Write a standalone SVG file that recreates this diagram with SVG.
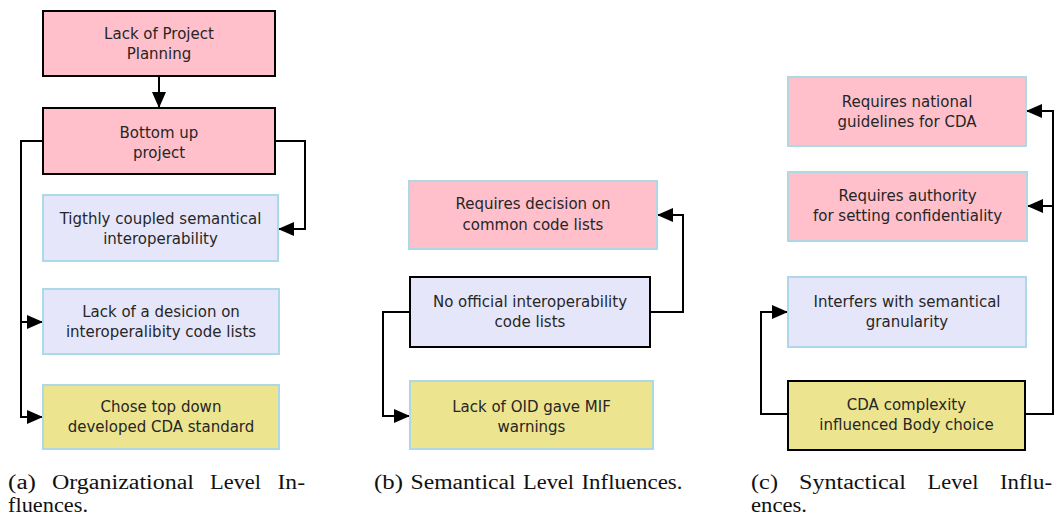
<svg xmlns="http://www.w3.org/2000/svg" width="1060" height="516" viewBox="0 0 1060 516">
<defs>
<marker id="arr" viewBox="0 0 16 14" refX="15" refY="7" markerWidth="16" markerHeight="14" orient="auto" markerUnits="userSpaceOnUse"><path d="M0,0 L16,7 L0,14 z" fill="#000"/></marker>
<style>
.pink{fill:#ffc0cb}
.lav{fill:#e6e6fa}
.kha{fill:#ece48e}
.bl{stroke:#000;stroke-width:2}
.lb{stroke:#add8e6;stroke-width:2}
.t{font-family:"DejaVu Sans",sans-serif;font-size:15px;fill:#262626;text-anchor:middle}
.cap text{font-family:"Liberation Serif",serif;font-size:20px;fill:#111}
.c{fill:none;stroke:#000;stroke-width:2;marker-end:url(#arr)}
</style>
</defs>
<rect width="1060" height="516" fill="#fff"/>
<g id="connectors">
<path class="c" d="M159,76 V107"/>
<path class="c" d="M43,141 H21 V417 H42"/>
<path class="c" d="M21,322 H42"/>
<path class="c" d="M275,141 H305 V229 H279"/>
<path class="c" d="M650,312 H683 V215 H658"/>
<path class="c" d="M410,312 H383 V416 H409"/>
<path class="c" d="M1025,414 H1053 V111 H1027"/>
<path class="c" d="M1053,206 H1028"/>
<path class="c" d="M788,414 H761 V312 H787"/>
</g>
<g id="a1"><rect class="pink bl" x="43" y="11" width="232" height="65"/><text class="t" x="159" y="39">Lack of Project</text><text class="t" x="159" y="59">Planning</text></g>
<g id="a2"><rect class="pink bl" x="43" y="108" width="232" height="66"/><text class="t" x="159" y="138">Bottom up</text><text class="t" x="159" y="158">project</text></g>
<g id="a3"><rect class="lav lb" x="43" y="195" width="235" height="66"/><text class="t" x="160.5" y="224">Tigthly coupled semantical</text><text class="t" x="160.5" y="244">interoperability</text></g>
<g id="a4"><rect class="lav lb" x="43" y="289" width="236" height="65"/><text class="t" x="161" y="317">Lack of a desicion on</text><text class="t" x="161" y="337">interoperalibity code lists</text></g>
<g id="a5"><rect class="kha lb" x="43" y="385" width="236" height="64"/><text class="t" x="161" y="412">Chose top down</text><text class="t" x="161" y="432">developed CDA standard</text></g>
<g id="b1"><rect class="pink lb" x="409" y="181" width="248" height="68"/><text class="t" x="533" y="209">Requires decision on</text><text class="t" x="533" y="230">common code lists</text></g>
<g id="b2"><rect class="lav bl" x="410" y="277" width="240" height="70"/><text class="t" x="530" y="307">No official interoperability</text><text class="t" x="530" y="327">code lists</text></g>
<g id="b3"><rect class="kha lb" x="410" y="381" width="243" height="68"/><text class="t" x="531.5" y="412">Lack of OID gave MIF</text><text class="t" x="531.5" y="432">warnings</text></g>
<g id="c1"><rect class="pink lb" x="788" y="77" width="238" height="69"/><text class="t" x="907" y="107">Requires national</text><text class="t" x="907" y="127">guidelines for CDA</text></g>
<g id="c2"><rect class="pink lb" x="788" y="172" width="239" height="69"/><text class="t" x="907.5" y="201">Requires authority</text><text class="t" x="907.5" y="221">for setting confidentiality</text></g>
<g id="c3"><rect class="lav lb" x="788" y="277" width="238" height="70"/><text class="t" x="907" y="307">Interfers with semantical</text><text class="t" x="907" y="327">granularity</text></g>
<g id="c4"><rect class="kha bl" x="788" y="381" width="237" height="69"/><text class="t" x="906.5" y="410">CDA complexity</text><text class="t" x="906.5" y="430">influenced Body choice</text></g>
<g id="captions" class="cap">
<text x="8" y="489" textLength="28" lengthAdjust="spacingAndGlyphs">(a)</text><text x="52" y="489" textLength="142" lengthAdjust="spacingAndGlyphs">Organizational</text><text x="210" y="489" textLength="51" lengthAdjust="spacingAndGlyphs">Level</text><text x="277.5" y="489" textLength="27.5" lengthAdjust="spacingAndGlyphs">In-</text>
<text x="8" y="512" textLength="80" lengthAdjust="spacingAndGlyphs">fluences.</text>
<text x="374" y="489" textLength="29" lengthAdjust="spacingAndGlyphs">(b)</text><text x="410.5" y="489" textLength="105" lengthAdjust="spacingAndGlyphs">Semantical</text><text x="523" y="489" textLength="51" lengthAdjust="spacingAndGlyphs">Level</text><text x="581.5" y="489" textLength="101" lengthAdjust="spacingAndGlyphs">Influences.</text>
<text x="751" y="489" textLength="27" lengthAdjust="spacingAndGlyphs">(c)</text><text x="799" y="489" textLength="107" lengthAdjust="spacingAndGlyphs">Syntactical</text><text x="927.5" y="489" textLength="51" lengthAdjust="spacingAndGlyphs">Level</text><text x="1000" y="489" textLength="52" lengthAdjust="spacingAndGlyphs">Influ-</text>
<text x="751" y="512" textLength="56" lengthAdjust="spacingAndGlyphs">ences.</text>
</g>
</svg>
